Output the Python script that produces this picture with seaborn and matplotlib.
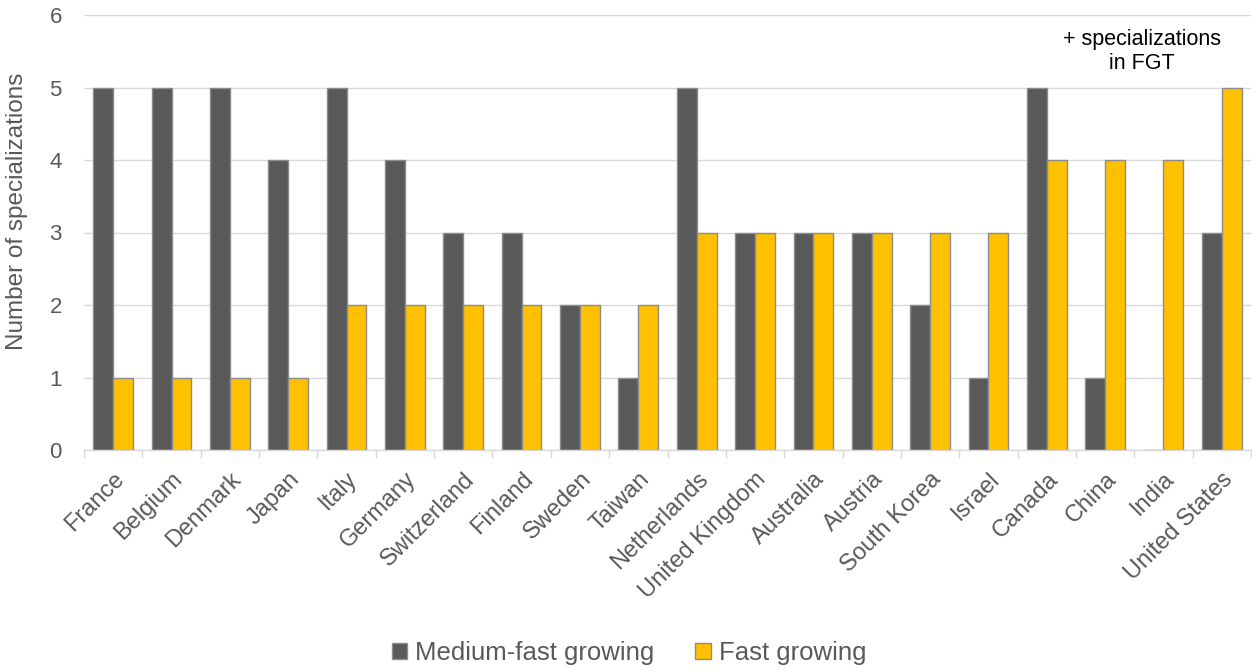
import matplotlib
matplotlib.use("Agg")
import matplotlib.pyplot as plt
import seaborn as sns
import pandas as pd

countries = ["France", "Belgium", "Denmark", "Japan", "Italy", "Germany", "Switzerland",
             "Finland", "Sweden", "Taiwan", "Netherlands", "United Kingdom", "Australia",
             "Austria", "South Korea", "Israel", "Canada", "China", "India", "United States"]
medium_fast = [5, 5, 5, 4, 5, 4, 3, 3, 2, 1, 5, 3, 3, 3, 2, 1, 5, 1, 0, 3]
fast = [1, 1, 1, 1, 2, 2, 2, 2, 2, 2, 3, 3, 3, 3, 3, 3, 4, 4, 4, 5]
series_names = ["Medium-fast growing", "Fast growing"]
y_ticks = [0, 1, 2, 3, 4, 5, 6]

df = pd.DataFrame({
    "Country": countries * 2,
    "Series": [series_names[0]] * len(countries) + [series_names[1]] * len(countries),
    "Value": medium_fast + fast,
})

sns.set_theme(style="white")
plt.rcParams['font.family'] = ['Liberation Sans', 'DejaVu Sans']

fig = plt.figure(figsize=(12.52, 6.70), dpi=100)
ax = fig.add_axes([84 / 1252, 1 - 450 / 670, 1167 / 1252, 435 / 670])

palette = {series_names[0]: "#595959", series_names[1]: "#FFC000"}
sns.barplot(data=df, x="Country", y="Value", hue="Series", palette=palette,
            width=0.68, edgecolor="#8c8c8c", linewidth=1.0, saturation=1,
            ax=ax, legend=True, zorder=3)

n = len(countries)
ax.set_ylim(0, 6)
ax.set_yticks(y_ticks)
ax.set_xlim(-0.5, n - 0.5)
ax.yaxis.grid(True, color="#d9d9d9", linewidth=1.0, zorder=0)
ax.set_axisbelow(True)
for s in ["top", "right", "left"]:
    ax.spines[s].set_visible(False)
ax.spines["bottom"].set_color("#d9d9d9")
ax.spines["bottom"].set_linewidth(1.0)
ax.spines["bottom"].set_zorder(4)

ax.set_xticks([i - 0.5 for i in range(n + 1)], minor=True)
ax.tick_params(axis="x", which="minor", length=6, width=1.0, color="#d9d9d9",
               direction="out", bottom=True)
ax.tick_params(axis="y", labelsize=16, colors="#595959", length=0, pad=16)
ax.tick_params(axis="x", which="major", labelsize=17, colors="#595959", length=0, pad=13)
plt.setp(ax.get_xticklabels(), rotation=45, ha="right", rotation_mode="anchor")
ax.set_xlabel("")
ax.set_ylabel("Number of specializations", fontsize=17.5, color="#595959")
ax.yaxis.set_label_coords(-0.048, (450 - 211) / 435)

ax.text(17.63, 5.5, "+ specializations\nin FGT", ha="center", va="center",
        fontsize=15.5, color="#000000", linespacing=1.2)

handles, labels = ax.get_legend_handles_labels()
ax.legend(handles, labels, loc="center", bbox_to_anchor=(629 / 1252, 1 - 653 / 670),
          bbox_transform=fig.transFigure, ncol=2, frameon=False, fontsize=18.5,
          labelcolor="#595959", handlelength=0.6, handleheight=0.6,
          handletextpad=0.3, columnspacing=1.6)

fig.savefig("out.png", dpi=100)
